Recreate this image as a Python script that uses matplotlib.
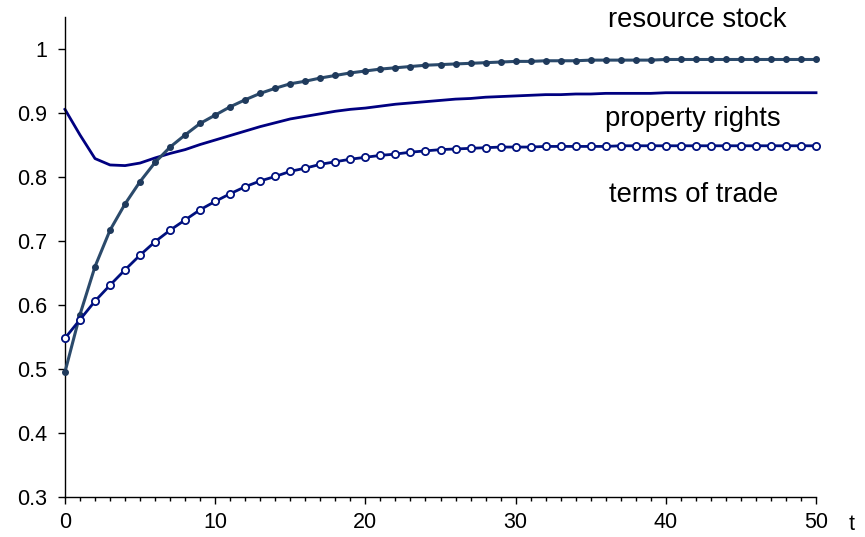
import numpy as np
import matplotlib.pyplot as plt
from matplotlib.ticker import MultipleLocator

plt.rcParams['font.family'] = ['Liberation Sans', 'DejaVu Sans']

t = np.arange(0, 51)

resource_stock = [0.495, 0.585, 0.660, 0.717, 0.758, 0.793, 0.823, 0.847, 0.866, 0.884,
                  0.897, 0.910, 0.921, 0.931, 0.939, 0.946, 0.950, 0.955, 0.959, 0.963,
                  0.966, 0.969, 0.971, 0.973, 0.975, 0.976, 0.977, 0.978, 0.979, 0.980,
                  0.981, 0.981, 0.982, 0.982, 0.982, 0.983, 0.983, 0.983, 0.983, 0.983,
                  0.984, 0.984, 0.984, 0.984, 0.984, 0.984, 0.984, 0.984, 0.984, 0.984,
                  0.984]

property_rights = [0.906, 0.866, 0.829, 0.819, 0.818, 0.822, 0.830, 0.837, 0.843, 0.851,
                   0.858, 0.865, 0.872, 0.879, 0.885, 0.891, 0.895, 0.899, 0.903, 0.906,
                   0.908, 0.911, 0.914, 0.916, 0.918, 0.920, 0.922, 0.923, 0.925, 0.926,
                   0.927, 0.928, 0.929, 0.929, 0.930, 0.930, 0.931, 0.931, 0.931, 0.931,
                   0.932, 0.932, 0.932, 0.932, 0.932, 0.932, 0.932, 0.932, 0.932, 0.932,
                   0.932]

terms_of_trade = [0.548, 0.577, 0.606, 0.631, 0.655, 0.678, 0.699, 0.717, 0.733, 0.749,
                  0.762, 0.774, 0.785, 0.794, 0.801, 0.809, 0.814, 0.820, 0.824, 0.828,
                  0.831, 0.834, 0.836, 0.839, 0.841, 0.843, 0.844, 0.845, 0.846, 0.847,
                  0.847, 0.847, 0.848, 0.848, 0.848, 0.848, 0.848, 0.849, 0.849, 0.849,
                  0.849, 0.849, 0.849, 0.849, 0.849, 0.849, 0.849, 0.849, 0.849, 0.849,
                  0.849]

fig = plt.figure(figsize=(8.65, 5.37), dpi=100)
ax = fig.add_axes([0.0751, 0.0750, 0.8683, 0.8928])

ax.plot(t, resource_stock, color='#2B4A6B', lw=2.2, marker='o', ms=4,
        mfc='#1F3A5C', mec='#1F3A5C', zorder=3, clip_on=False)
ax.plot(t, property_rights, color='#000080', lw=2.0, zorder=2, clip_on=False)
ax.plot(t, terms_of_trade, color='#00107F', lw=2.0, marker='o', ms=5.2,
        mfc='white', mec='#00107F', mew=1.3, zorder=3, clip_on=False)

ax.text(42.1, 1.0345, 'resource stock', ha='center', va='baseline', fontsize=19.8)
ax.text(41.8, 0.880, 'property rights', ha='center', va='baseline', fontsize=19.8)
ax.text(41.86, 0.761, 'terms of trade', ha='center', va='baseline', fontsize=19.8)

ax.set_xlim(0, 50)
ax.set_ylim(0.3, 1.05)
ax.xaxis.set_major_locator(MultipleLocator(10))
ax.xaxis.set_minor_locator(MultipleLocator(1))
ax.set_yticks([0.3, 0.4, 0.5, 0.6, 0.7, 0.8, 0.9, 1.0])
ax.set_yticklabels(['0.3', '0.4', '0.5', '0.6', '0.7', '0.8', '0.9', '1'])

ax.spines['top'].set_visible(False)
ax.spines['right'].set_visible(False)
for s in ['left', 'bottom']:
    ax.spines[s].set_linewidth(1.0)
ax.tick_params(axis='both', which='major', direction='out', length=5, width=1.0,
               labelsize=15.5, pad=8)
ax.tick_params(axis='x', which='minor', direction='out', length=3, width=1.0)
ax.tick_params(axis='x', pad=6)

ax.text(1.048, -0.058, 't', transform=ax.transAxes, ha='center', va='center', fontsize=15.5)

fig.savefig('out.png', dpi=100)
